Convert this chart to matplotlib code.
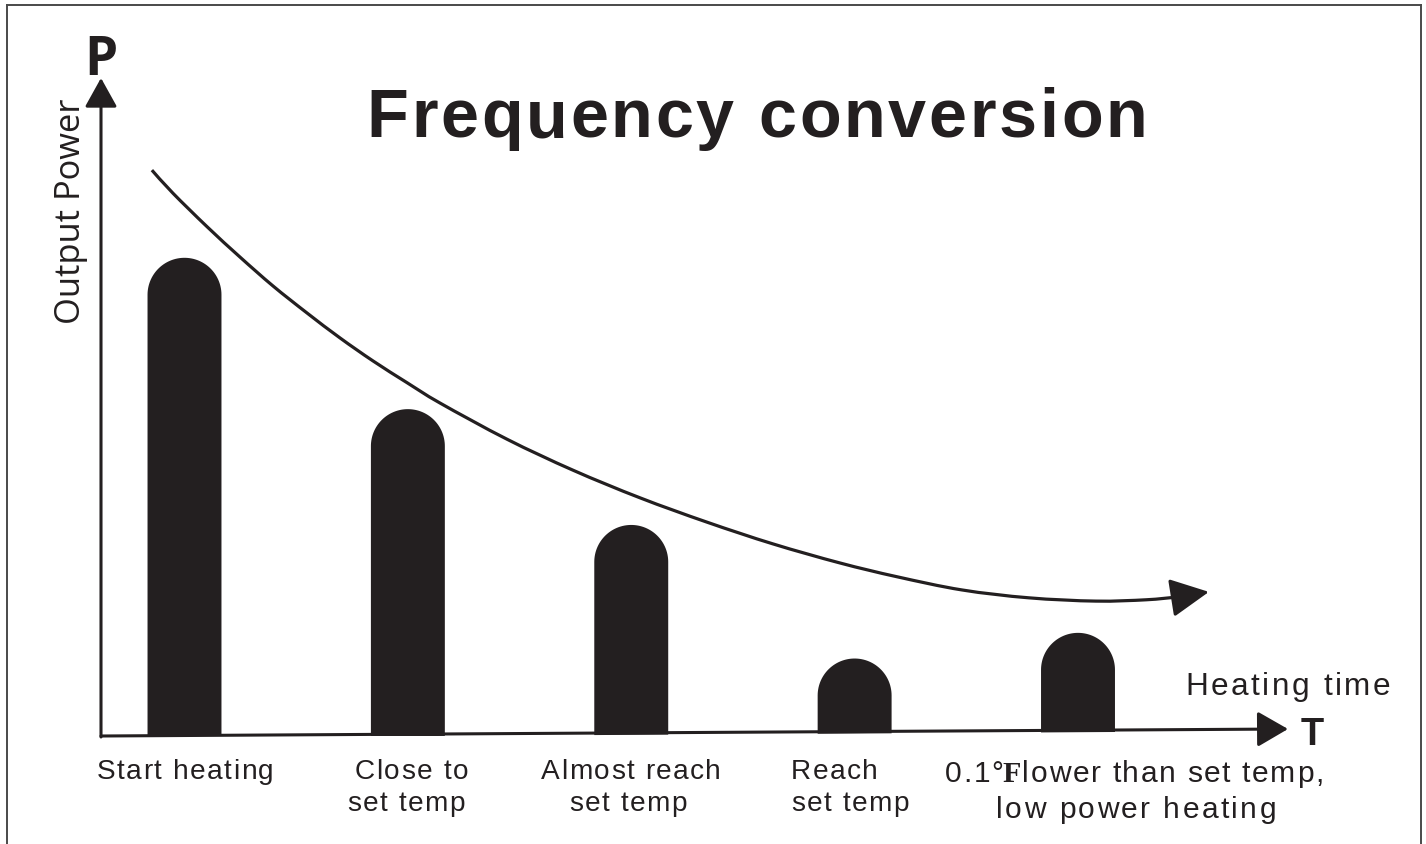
import numpy as np
import matplotlib
matplotlib.use("Agg")
import matplotlib.pyplot as plt
from matplotlib import font_manager
from matplotlib.font_manager import FontProperties
from matplotlib.ft2font import FT2Font
from matplotlib.patches import PathPatch
from matplotlib.path import Path
from matplotlib.lines import Line2D

# ---------------- data ----------------
title = "Frequency conversion"
y_label = "Output Power"
y_symbol = "P"
x_label = "Heating time"
x_symbol = "T"
stages = ["Start heating", "Close to\nset temp", "Almost reach\nset temp",
          "Reach\nset temp", "0.1°Flower than set temp,\nlow power heating"]
power = [72.6, 49.4, 31.6, 11.1, 14.8]          # bar heights (power units, 0-100)
trend_t = [-0.146, -0.052, 0.101, 0.248, 0.396, 0.548, 0.696, 0.844, 0.996, 1.144,
           1.444, 1.739, 2.039, 2.339, 2.634, 2.934, 3.190, 3.480, 3.780, 4.080,
           4.304, 4.438, 4.586]
trend_p = [86.0, 82.5, 77.4, 72.8, 68.4, 64.3, 60.5, 57.0, 53.7, 50.6, 45.1,
           40.4, 36.2, 32.5, 29.2, 26.3, 24.2, 22.2, 21.0, 20.5, 20.7, 21.1, 21.9]

# ---------------- style ----------------
W, H, DPI = 1426, 844, 100
INK = "#231f20"
SANS = "Liberation Sans"
HUMAN = "Open Sans"
SERIF = "Liberation Serif"

fig = plt.figure(figsize=(W / DPI, H / DPI), dpi=DPI)
fig.patch.set_facecolor("white")

# axes placed in pixel terms
ax_l, ax_r, ax_b, ax_t = 101, 1288, 736, 78
ax = fig.add_axes([ax_l / W, (H - ax_b) / H, (ax_r - ax_l) / W, (ax_b - ax_t) / H])
ax.set_axis_off()
sx = 223.375                       # px per category step
x_lo = -(184.5 - ax_l) / sx
x_hi = (len(power) - 1) + (ax_r - 1078) / sx
ax.set_xlim(x_lo, x_hi)
ax.set_ylim(0, 100)
sy = (ax_b - ax_t) / 100.0         # px per power unit
tilt = 7 / sy                      # slight rise of the drawn time axis


def base(x):
    return tilt * (x - x_lo) / (x_hi - x_lo)


arrow_kw = dict(color=INK, lw=2.2, shrinkA=0, shrinkB=0, mutation_scale=1)
# y axis
ax.annotate("", xy=(x_lo, 100), xytext=(x_lo, base(x_lo) - 0.15), annotation_clip=False,
            arrowprops=dict(arrowstyle="-|>,head_length=18,head_width=10", **arrow_kw))
# x axis
ax.annotate("", xy=(x_hi, base(x_hi)), xytext=(x_lo, base(x_lo)), annotation_clip=False,
            arrowprops=dict(arrowstyle="-|>,head_length=19,head_width=11", **arrow_kw))

# rounded-top bars
bar_w = 0.331
hw = bar_w / 2
ry = hw * sx / sy
theta = np.linspace(np.pi, 0, 60)
for i, p in enumerate(power):
    bl = base(i - hw) - 0.3
    br = base(i + hw) - 0.3
    top = base(i) + p
    cy = top - ry
    verts = [(i - hw, bl), (i - hw, cy)]
    verts += [(i + hw * np.cos(t), cy + ry * np.sin(t)) for t in theta]
    verts += [(i + hw, br), (i - hw, bl)]
    codes = [Path.MOVETO] + [Path.LINETO] * (len(verts) - 2) + [Path.CLOSEPOLY]
    ax.add_patch(PathPatch(Path(verts, codes), facecolor=INK, edgecolor="none", zorder=2))

# trend curve, drawn as a smooth path through the read points
pts = np.column_stack([trend_t[:-1], trend_p[:-1]])
n = len(pts)
cverts = [tuple(pts[0])]
ccodes = [Path.MOVETO]
for k in range(n - 1):
    p0 = pts[max(k - 1, 0)]
    p1 = pts[k]
    p2 = pts[k + 1]
    p3 = pts[min(k + 2, n - 1)]
    c1 = p1 + (p2 - p0) / 6.0
    c2 = p2 - (p3 - p1) / 6.0
    cverts += [tuple(c1), tuple(c2), tuple(p2)]
    ccodes += [Path.CURVE4] * 3
ax.add_patch(PathPatch(Path(cverts, ccodes), facecolor="none", edgecolor=INK, lw=2.3,
                       capstyle="butt", joinstyle="round", zorder=3, clip_on=False))
ax.annotate("", xy=(trend_t[-1], trend_p[-1]), xytext=(trend_t[-2], trend_p[-2]),
            annotation_clip=False,
            arrowprops=dict(arrowstyle="-|>,head_length=24,head_width=12", **arrow_kw))


# ---------------- text helpers (pixel positions, baseline) ----------------
def tracked(segments, x, y, size_px, ha="left", target_width=None, tracking=0.0, color=INK):
    glyphs = []
    for s, fam, wt in segments:
        path = font_manager.findfont(FontProperties(family=fam, weight=wt))
        ft = FT2Font(path)
        ft.set_size(size_px, 72)
        for c in s:
            g = ft.load_char(ord(c))
            glyphs.append((c, fam, wt, g.linearHoriAdvance / 65536.0))
    nat = sum(g[3] for g in glyphs)
    m = len(glyphs)
    if target_width is not None and m > 1:
        tracking = (target_width - nat) / (m - 1)
    total = nat + tracking * (m - 1)
    if ha == "center":
        pen = x - total / 2
    elif ha == "right":
        pen = x - total
    else:
        pen = x
    for idx, (c, fam, wt, adv) in enumerate(glyphs):
        if c != " ":
            fig.text(pen / W, 1 - y / H, c, family=fam, weight=wt,
                     fontsize=size_px * 72 / DPI, ha="left", va="baseline", color=color)
        step = tracking
        if c == "°":
            step = -1.0
        pen += adv + step


# title
tracked([(title, SANS, "bold")], 757, 137, 68.4, ha="center", target_width=781)

# axis labels
fig.text(80 / W, 1 - 211 / H, y_label, family=HUMAN, fontsize=34.5 * 72 / DPI,
         rotation=90, rotation_mode="anchor", ha="center", va="baseline", color=INK)
fig.text(100.5 / W, 1 - 75 / H, y_symbol, family=HUMAN, weight="bold",
         fontsize=53 * 72 / DPI, ha="center", va="baseline", color=INK)
tracked([(x_label, SANS, "normal")], 1288, 695, 31.5, ha="center", target_width=205)
fig.text(1301 / W, 1 - 745 / H, x_symbol, family=SANS, weight="bold",
         fontsize=38 * 72 / DPI, ha="left", va="baseline", color=INK)

# stage labels
LS = 28
TRK = 1.5
l1, l2 = 779, 811
s0 = stages[0]
tracked([(s0, SANS, "normal")], 185, l1, LS, ha="center", tracking=TRK)
a, b = stages[1].split("\n")
tracked([(a, SANS, "normal")], 411.5, l1, LS, ha="center", tracking=TRK)
tracked([(b, SANS, "normal")], 406, l2, LS, ha="center", tracking=TRK)
a, b = stages[2].split("\n")
tracked([(a, SANS, "normal")], 631, l1, LS, ha="center", tracking=TRK)
tracked([(b, SANS, "normal")], 628, l2, LS, ha="center", tracking=TRK)
a, b = stages[3].split("\n")
tracked([(a, SANS, "normal")], 791, l1, LS, ha="left", tracking=TRK)
tracked([(b, SANS, "normal")], 791, l2, LS, ha="left", tracking=TRK)
a, b = stages[4].split("\n")
pre, rest = a.split("°F")
tracked([(pre + "°", SANS, "normal"), ("F", SERIF, "bold"), (rest, SANS, "normal")],
        1135.5, 782, 30, ha="center", target_width=381)
tracked([(b, SANS, "normal")], 1136, 818, 30, ha="center", target_width=280)

# frame
frame_kw = dict(color="#4a4a4a", lw=1.4, transform=fig.transFigure)
fig.add_artist(Line2D([7 / W, 7 / W], [0, 1 - 5 / H], **frame_kw))
fig.add_artist(Line2D([7 / W, 1421 / W], [1 - 5 / H, 1 - 5 / H], **frame_kw))
fig.add_artist(Line2D([1421 / W, 1421 / W], [0, 1 - 5 / H], **frame_kw))

fig.savefig("out.png", dpi=DPI, facecolor="white")
